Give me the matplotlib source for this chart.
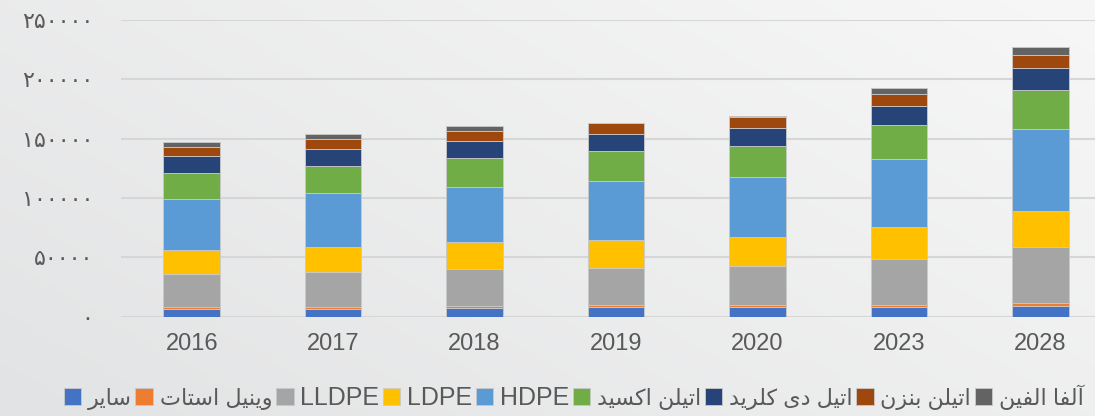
import matplotlib
matplotlib.use("Agg")
import matplotlib.pyplot as plt
import numpy as np

years = ["2016", "2017", "2018", "2019", "2020", "2023", "2028"]
series_names = ["سایر", "وینیل استات", "LLDPE", "LDPE", "HDPE",
                "اتیلن اکسید", "اتیل دی کلرید", "اتیلن بنزن", "آلفا الفین"]
other = [6500, 6700, 7300, 7900, 7900, 8200, 9000]
vinyl_acetate = [1400, 1700, 1700, 1700, 1700, 1900, 2300]
lldpe = [28100, 29500, 31200, 31700, 33400, 38500, 47200]
ldpe = [20200, 21100, 22500, 23600, 24200, 26700, 30400]
hdpe = [42700, 45000, 46400, 49200, 50800, 57600, 69100]
ethylene_oxide = [22400, 23000, 24400, 25300, 26100, 28700, 33400]
edc = [13800, 14300, 14300, 14600, 14700, 16300, 18500]
ethylbenzene = [8100, 8400, 8400, 9000, 9300, 10100, 11000]
alpha_olefin = [4000, 4200, 4500, 500, 1000, 5100, 6200]
yticks = [0, 50000, 100000, 150000, 200000, 250000]

colors = ["#4472C4", "#ED7D31", "#A5A5A5", "#FFC000", "#5B9BD5",
          "#70AD47", "#264478", "#9E480E", "#636363"]

# minimal Persian shaping (matplotlib has no complex text layout)
FORMS = {
    "ا": ("\uFE8D", "\uFE8E"), "آ": ("\uFE81", "\uFE82"),
    "د": ("\uFEA9", "\uFEAA"), "ر": ("\uFEAD", "\uFEAE"),
    "ز": ("\uFEAF", "\uFEB0"), "و": ("\uFEED", "\uFEEE"),
    "ب": ("\uFE8F", "\uFE90", "\uFE91", "\uFE92"),
    "ت": ("\uFE95", "\uFE96", "\uFE97", "\uFE98"),
    "س": ("\uFEB1", "\uFEB2", "\uFEB3", "\uFEB4"),
    "ف": ("\uFED1", "\uFED2", "\uFED3", "\uFED4"),
    "ک": ("\uFB8E", "\uFB8F", "\uFB90", "\uFB91"),
    "ل": ("\uFEDD", "\uFEDE", "\uFEDF", "\uFEE0"),
    "ن": ("\uFEE5", "\uFEE6", "\uFEE7", "\uFEE8"),
    "ی": ("\uFBFC", "\uFBFD", "\uFBFE", "\uFBFF"),
}

def shape(text):
    if not any(c in FORMS for c in text):
        return text
    out = []
    for i, c in enumerate(text):
        if c not in FORMS:
            out.append(c)
            continue
        f = FORMS[c]
        prev = text[i - 1] if i > 0 else ""
        nxt = text[i + 1] if i + 1 < len(text) else ""
        jp = prev in FORMS and len(FORMS[prev]) == 4
        jn = nxt in FORMS and len(f) == 4
        if jp and jn:
            out.append(f[3])
        elif jp:
            out.append(f[1])
        elif jn:
            out.append(f[2])
        else:
            out.append(f[0])
    return "".join(out)[::-1]

def fa_digits(v):
    return str(int(v)).translate(str.maketrans("0123456789", "۰۱۲۳۴۵۶۷۸۹"))

plt.rcParams["font.family"] = ["Liberation Sans", "DejaVu Sans"]

fig = plt.figure(figsize=(10.95, 4.16), dpi=100)

# background gradient
bg = fig.add_axes([0, 0, 1, 1], zorder=-1)
grad = np.linspace(0, 1, 256)[None, :] * 0.6 + np.linspace(0, 1, 256)[:, None] * 0.4
bg.imshow(grad, cmap=matplotlib.colors.LinearSegmentedColormap.from_list("bg", ["#e2e3e4", "#f7f7f7"]),
          aspect="auto", extent=[0, 1, 0, 1], origin="lower")
bg.axis("off")

ax = fig.add_axes([121 / 1095, 99.3 / 416, 990 / 1095, 296.7 / 416])
ax.patch.set_alpha(0)

data = [other, vinyl_acetate, lldpe, ldpe, hdpe, ethylene_oxide, edc, ethylbenzene, alpha_olefin]
x = np.arange(len(years))
bottom = np.zeros(len(years))
for name, vals, col in zip(series_names, data, colors):
    ax.bar(x, vals, 0.4, bottom=bottom, color=col, label=shape(name),
           edgecolor="#c9c9c9", linewidth=0.6, zorder=3)
    bottom += np.array(vals)

ax.set_xlim(-0.5, 6.5)
ax.set_ylim(0, 250000)
ax.set_yticks(yticks)
ax.set_yticklabels([fa_digits(v) for v in yticks], family=["DejaVu Sans"])
ax.set_xticks(x)
ax.set_xticklabels(years)
ax.tick_params(axis="y", length=0, pad=20, labelsize=16, labelcolor="#595959")
ax.tick_params(axis="x", length=0, pad=12, labelsize=17, labelcolor="#595959")
ax.grid(axis="y", color="#d6d6d6", linewidth=1.5, zorder=0)
for s in ax.spines.values():
    s.set_visible(False)

leg = fig.legend(loc="center", bbox_to_anchor=(0.524, 0.046), ncol=9, frameon=False,
                 fontsize=16, handlelength=0.8, handleheight=0.8, handletextpad=0.3,
                 columnspacing=0.15, labelcolor="#595959")
for t in leg.get_texts():
    if t.get_text().isascii():
        t.set_fontsize(18)

fig.savefig("out.png", dpi=100)
